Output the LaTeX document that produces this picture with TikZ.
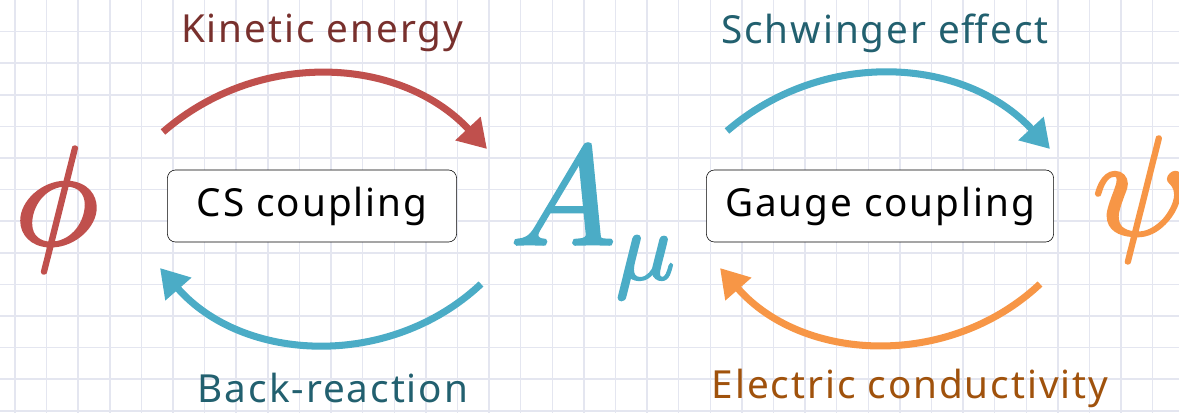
\documentclass[tikz,border=0pt]{standalone}
\usepackage{fontspec}
\usepackage{unicode-math}
\setmainfont[LetterSpace=5]{Noto Sans}
\setmathfont{Latin Modern Math}[FakeBold=2]
\usetikzlibrary{arrows.meta}
\definecolor{redc}{HTML}{C0504D}
\definecolor{aquac}{HTML}{4BACC6}
\definecolor{orngc}{HTML}{F79646}
\definecolor{kintext}{HTML}{78302D}
\definecolor{bluetext}{HTML}{22606F}
\definecolor{orngtext}{HTML}{A0520C}
\definecolor{gridc}{HTML}{E4E6F0}
\tikzset{
  gridline/.style={draw=gridc,line width=1pt},
  flow/.style={line width=5pt,-{Triangle[length=0.7cm,width=0.82cm]}},
  lbl/.style={font=\fontsize{27.5}{30}\selectfont,inner sep=0pt},
  couplebox/.style={draw,thin,fill=white,rounded corners=0.2cm,minimum height=1.8cm,
    font=\fontsize{27.5}{30}\selectfont},
  sym/.style={font=\fontsize{100}{100}\selectfont,inner sep=0pt}
}
\begin{document}
\begin{tikzpicture}[x=0.025cm,y=-0.025cm]
\useasboundingbox (0,0) rectangle (1179,413);
\clip (0,0) rectangle (1179,413);
\fill[white] (0,0) rectangle (1179,413);
% background grid
\foreach \i in {0,...,37} \draw[gridline] ({15+31.6*\i},0) -- ({15+31.6*\i},413);
\foreach \j in {1,...,13} \draw[gridline] (0,{31.6*\j}) -- (1179,{31.6*\j});

% fields
\node[sym,text=redc] (phi) at (57,210) {$\phi$};
\node[sym,text=aquac] (amu) at (593,222) {$A_\mu$};
\node[sym,text=orngc,anchor=west] (psi) at (1092,200) {$\psi$};

% couplings
\node[couplebox,minimum width=7.225cm] (cs) at (312,206) {CS coupling};
\node[couplebox,minimum width=8.675cm] (gauge) at (880,206) {Gauge coupling};

% labels
\node[lbl,text=kintext] (kin) at (322,33) {Kinetic energy};
\node[lbl,text=bluetext] (sch) at (885,33) {Schwinger effect};
\node[lbl,text=bluetext] (back) at (333,388) {Back-reaction};
\node[lbl,text=orngtext] (cond) at (910,388) {Electric conductivity};

% arcs
\coordinate (kinA) at (163,132);
\coordinate (kinB) at (487,149);
\coordinate (backA) at (481,284);
\coordinate (backB) at (160,268);
\coordinate (schA) at (727,131);
\coordinate (schB) at (1050,149);
\coordinate (condA) at (1040,284);
\coordinate (condB) at (720,268);
\draw[flow,redc] (kinA) to[bend left=44] (kinB);
\draw[flow,aquac] (backA) to[bend left=46] (backB);
\draw[flow,aquac] (schA) to[bend left=44] (schB);
\draw[flow,orngc] (condA) to[bend left=46] (condB);
\end{tikzpicture}
\end{document}
